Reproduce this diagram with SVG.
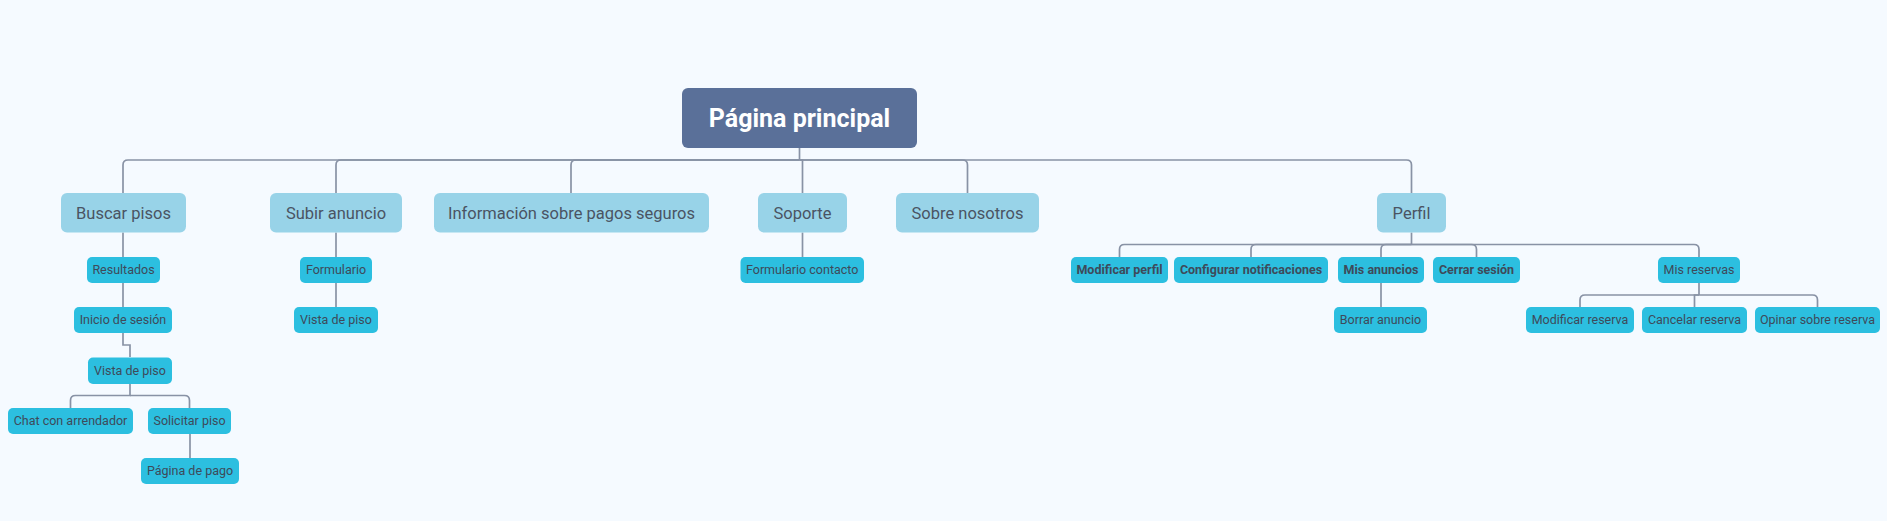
<svg xmlns="http://www.w3.org/2000/svg" width="1887" height="521" viewBox="0 0 1887 521">
<style>
  .bg{fill:#F5FAFF}
  .root rect{fill:#5A7099}
  .root text{font-family:Roboto,"Liberation Sans",sans-serif;font-weight:bold;font-size:25px;fill:#FFFFFF;text-anchor:middle}
  .l1 rect{fill:#98D3E8}
  .l1 text{font-family:Roboto,"Liberation Sans",sans-serif;font-size:16.5px;fill:#4A5463;text-anchor:middle}
  .l2 rect{fill:#2CBFE0}
  .l2 text{font-family:Roboto,"Liberation Sans",sans-serif;font-size:12.5px;fill:#3E4A5A;text-anchor:middle}
  .l2.b text{font-weight:bold}
  #connectors path{fill:none;stroke:#8892A5;stroke-width:1.7}
</style>
<rect class="bg" x="0" y="0" width="1887" height="521"/>

<g id="connectors">
  <path d="M799.5 148 V160"/>
  <path d="M799.5 160 H128 Q123 160 123 165 V193"/>
  <path d="M799.5 160 H341 Q336 160 336 165 V193"/>
  <path d="M799.5 160 H576 Q571 160 571 165 V193"/>
  <path d="M799.5 160 H802.5 V193"/>
  <path d="M799.5 160 H962.5 Q967.5 160 967.5 165 V193"/>
  <path d="M799.5 160 H1406.5 Q1411.5 160 1411.5 165 V193"/>
  <path d="M123 232.5 V257"/>
  <path d="M123 283 V307"/>
  <path d="M123 333 V345 H130 V357"/>
  <path d="M130 384 V395.5 H75.5 Q70.5 395.5 70.5 400.5 V408"/>
  <path d="M130 395.5 H184.5 Q189.5 395.5 189.5 400.5 V408"/>
  <path d="M190 434 V458"/>
  <path d="M336 232.5 V257"/>
  <path d="M336 283 V307"/>
  <path d="M802.5 232.5 V257"/>
  <path d="M1411.5 232.5 V244.5"/>
  <path d="M1411.5 244.5 H1124.5 Q1119.5 244.5 1119.5 249.5 V257"/>
  <path d="M1411.5 244.5 H1256 Q1251 244.5 1251 249.5 V257"/>
  <path d="M1411.5 244.5 H1386 Q1381 244.5 1381 249.5 V257"/>
  <path d="M1411.5 244.5 H1471.5 Q1476.5 244.5 1476.5 249.5 V257"/>
  <path d="M1411.5 244.5 H1694 Q1699 244.5 1699 249.5 V257"/>
  <path d="M1381 283 V307"/>
  <path d="M1699 283 V295"/>
  <path d="M1699 295 H1585 Q1580 295 1580 300 V307"/>
  <path d="M1699 295 H1694.5 V307"/>
  <path d="M1699 295 H1812.5 Q1817.5 295 1817.5 300 V307"/>
</g>

<g id="n-root" class="root"><rect x="682" y="88" width="235" height="60" rx="6"/><text x="799.5" y="127">Página principal</text></g>

<g id="n-buscar" class="l1"><rect x="61" y="193" width="125" height="39.5" rx="6"/><text x="123.5" y="218.6">Buscar pisos</text></g>
<g id="n-subir" class="l1"><rect x="270" y="193" width="132" height="39.5" rx="6"/><text x="336" y="218.6">Subir anuncio</text></g>
<g id="n-info" class="l1"><rect x="434" y="193" width="275" height="39.5" rx="6"/><text x="571.5" y="218.6">Información sobre pagos seguros</text></g>
<g id="n-soporte" class="l1"><rect x="758" y="193" width="89" height="39.5" rx="6"/><text x="802.5" y="218.6">Soporte</text></g>
<g id="n-sobre" class="l1"><rect x="896" y="193" width="143" height="39.5" rx="6"/><text x="967.5" y="218.6">Sobre nosotros</text></g>
<g id="n-perfil" class="l1"><rect x="1377" y="193" width="69" height="39.5" rx="6"/><text x="1411.5" y="218.6">Perfil</text></g>

<g id="n-resultados" class="l2"><rect x="87" y="257" width="73" height="26" rx="5"/><text x="123.5" y="274.4">Resultados</text></g>
<g id="n-inicio" class="l2"><rect x="74" y="307" width="98" height="26" rx="5"/><text x="123" y="324.4">Inicio de sesión</text></g>
<g id="n-vista1" class="l2"><rect x="88" y="357.5" width="84" height="26.5" rx="5"/><text x="130" y="375">Vista de piso</text></g>
<g id="n-chat" class="l2"><rect x="8" y="408" width="125" height="26" rx="5"/><text x="70.5" y="425.4">Chat con arrendador</text></g>
<g id="n-solicitar" class="l2"><rect x="148" y="408" width="83" height="26" rx="5"/><text x="189.5" y="425.4">Solicitar piso</text></g>
<g id="n-pago" class="l2"><rect x="141" y="458" width="98" height="26" rx="5"/><text x="190" y="475.4">Página de pago</text></g>

<g id="n-formulario" class="l2"><rect x="300" y="257" width="72" height="26" rx="5"/><text x="336" y="274.4">Formulario</text></g>
<g id="n-vista2" class="l2"><rect x="294" y="307" width="84" height="26" rx="5"/><text x="336" y="324.4">Vista de piso</text></g>

<g id="n-contacto" class="l2"><rect x="740.5" y="257" width="123.5" height="26" rx="5"/><text x="802.2" y="274.4">Formulario contacto</text></g>

<g id="n-modperfil" class="l2 b"><rect x="1071" y="257" width="97" height="26" rx="5"/><text x="1119.5" y="274.4">Modificar perfil</text></g>
<g id="n-config" class="l2 b"><rect x="1174" y="257" width="154" height="26" rx="5"/><text x="1251" y="274.4">Configurar notificaciones</text></g>
<g id="n-misanuncios" class="l2 b"><rect x="1338" y="257" width="86" height="26" rx="5"/><text x="1381" y="274.4">Mis anuncios</text></g>
<g id="n-cerrar" class="l2 b"><rect x="1433" y="257" width="87" height="26" rx="5"/><text x="1476.5" y="274.4">Cerrar sesión</text></g>
<g id="n-misreservas" class="l2"><rect x="1658" y="257" width="82" height="26" rx="5"/><text x="1699" y="274.4">Mis reservas</text></g>
<g id="n-borrar" class="l2"><rect x="1334" y="307" width="93" height="26" rx="5"/><text x="1380.5" y="324.4">Borrar anuncio</text></g>
<g id="n-modreserva" class="l2"><rect x="1526" y="307" width="108" height="26" rx="5"/><text x="1580" y="324.4">Modificar reserva</text></g>
<g id="n-cancelar" class="l2"><rect x="1642" y="307" width="105" height="26" rx="5"/><text x="1694.5" y="324.4">Cancelar reserva</text></g>
<g id="n-opinar" class="l2"><rect x="1755" y="307" width="125" height="26" rx="5"/><text x="1817.5" y="324.4">Opinar sobre reserva</text></g>
</svg>
